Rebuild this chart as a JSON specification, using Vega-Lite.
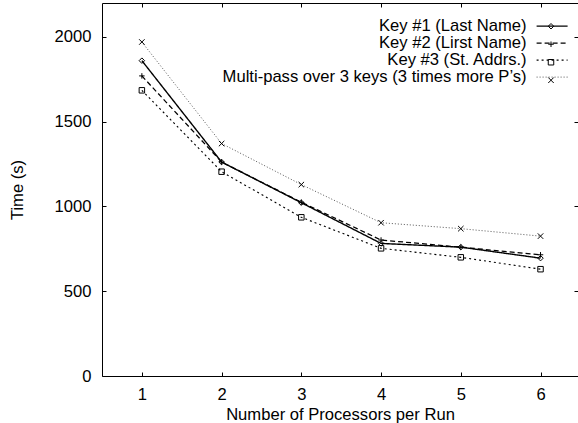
{
  "$schema": "https://vega.github.io/schema/vega-lite/v6.json",
  "width": 476,
  "height": 373,
  "autosize": {"type": "none"},
  "padding": {"left": 102, "top": 3, "right": 0, "bottom": 47},
  "background": "white",
  "config": {
    "view": {"stroke": null},
    "font": "Liberation Sans",
    "axis": {
      "labelFont": "Liberation Sans",
      "labelFontSize": 16.6,
      "labelColor": "black",
      "titleFont": "Liberation Sans",
      "titleFontSize": 16.6,
      "titleFontWeight": "normal",
      "titleColor": "black",
      "domainColor": "black",
      "tickColor": "black",
      "grid": false,
      "tickSize": -4,
      "domainWidth": 1,
      "tickWidth": 1
    }
  },
  "data": {
    "values": [
      {"series": "Key #1 (Last Name)", "processors": 1, "time": 1860},
      {"series": "Key #1 (Last Name)", "processors": 2, "time": 1262},
      {"series": "Key #1 (Last Name)", "processors": 3, "time": 1022},
      {"series": "Key #1 (Last Name)", "processors": 4, "time": 782},
      {"series": "Key #1 (Last Name)", "processors": 5, "time": 760},
      {"series": "Key #1 (Last Name)", "processors": 6, "time": 695},
      {"series": "Key #2 (Lirst Name)", "processors": 1, "time": 1770},
      {"series": "Key #2 (Lirst Name)", "processors": 2, "time": 1262},
      {"series": "Key #2 (Lirst Name)", "processors": 3, "time": 1025},
      {"series": "Key #2 (Lirst Name)", "processors": 4, "time": 802},
      {"series": "Key #2 (Lirst Name)", "processors": 5, "time": 760},
      {"series": "Key #2 (Lirst Name)", "processors": 6, "time": 715},
      {"series": "Key #3 (St. Addrs.)", "processors": 1, "time": 1685},
      {"series": "Key #3 (St. Addrs.)", "processors": 2, "time": 1205},
      {"series": "Key #3 (St. Addrs.)", "processors": 3, "time": 936},
      {"series": "Key #3 (St. Addrs.)", "processors": 4, "time": 753},
      {"series": "Key #3 (St. Addrs.)", "processors": 5, "time": 700},
      {"series": "Key #3 (St. Addrs.)", "processors": 6, "time": 630},
      {"series": "Multi-pass over 3 keys (3 times more P’s)", "processors": 1, "time": 1970},
      {"series": "Multi-pass over 3 keys (3 times more P’s)", "processors": 2, "time": 1371},
      {"series": "Multi-pass over 3 keys (3 times more P’s)", "processors": 3, "time": 1129},
      {"series": "Multi-pass over 3 keys (3 times more P’s)", "processors": 4, "time": 904},
      {"series": "Multi-pass over 3 keys (3 times more P’s)", "processors": 5, "time": 869},
      {"series": "Multi-pass over 3 keys (3 times more P’s)", "processors": 6, "time": 825}
    ]
  },
  "layer": [
    {
      "mark": {"type": "line"},
      "encoding": {
        "x": {
          "field": "processors", "type": "quantitative",
          "scale": {"domain": [0.5, 6.47], "nice": false, "zero": false},
          "axis": {"orient": "bottom", "values": [1, 2, 3, 4, 5, 6], "title": "Number of Processors per Run", "labelPadding": 14, "titlePadding": 3.5}
        },
        "y": {
          "field": "time", "type": "quantitative",
          "scale": {"domain": [0, 2200], "nice": false, "zero": true},
          "axis": {"orient": "left", "values": [0, 500, 1000, 1500, 2000], "format": "d", "title": "Time (s)", "labelPadding": 15, "titlePadding": 29}
        },
        "strokeDash": {
          "field": "series", "type": "nominal",
          "scale": {
            "domain": ["Key #1 (Last Name)", "Key #2 (Lirst Name)", "Key #3 (St. Addrs.)", "Multi-pass over 3 keys (3 times more P’s)"],
            "range": [[1, 0], [5, 3], [2, 3], [1, 2]]
          },
          "legend": {
            "orient": "none", "legendX": 441.8, "legendY": 14.8, "title": null,
            "symbolType": "M-3.1,0H3.1", "symbolSize": 100,
            "labelAlign": "right", "labelOffset": -33.8, "labelFont": "Liberation Sans", "labelFontSize": 16.6, "labelColor": "black", "labelLimit": 400,
            "rowPadding": 0, "padding": 0
          }
        },
        "color": {
          "field": "series", "type": "nominal",
          "scale": {
            "domain": ["Key #1 (Last Name)", "Key #2 (Lirst Name)", "Key #3 (St. Addrs.)", "Multi-pass over 3 keys (3 times more P’s)"],
            "range": ["#000000", "#000000", "#000000", "#555555"]
          },
          "legend": {
            "orient": "none", "legendX": 441.8, "legendY": 14.8, "title": null,
            "symbolType": "M-3.1,0H3.1", "symbolSize": 100,
            "labelAlign": "right", "labelOffset": -33.8, "labelFont": "Liberation Sans", "labelFontSize": 16.6, "labelColor": "black", "labelLimit": 400,
            "rowPadding": 0, "padding": 0
          }
        },
        "strokeWidth": {
          "field": "series", "type": "nominal",
          "scale": {
            "domain": ["Key #1 (Last Name)", "Key #2 (Lirst Name)", "Key #3 (St. Addrs.)", "Multi-pass over 3 keys (3 times more P’s)"],
            "range": [1.4, 1, 1, 1]
          },
          "legend": {
            "orient": "none", "legendX": 441.8, "legendY": 14.8, "title": null,
            "symbolType": "M-3.1,0H3.1", "symbolSize": 100,
            "labelAlign": "right", "labelOffset": -33.8, "labelFont": "Liberation Sans", "labelFontSize": 16.6, "labelColor": "black", "labelLimit": 400,
            "rowPadding": 0, "padding": 0
          }
        }
      }
    },
    {
      "mark": {"type": "point", "filled": false, "size": 30, "strokeWidth": 1, "opacity": 1, "color": "black"},
      "encoding": {
        "x": {"field": "processors", "type": "quantitative", "scale": {"domain": [0.5, 6.47], "nice": false, "zero": false}, "axis": null},
        "y": {"field": "time", "type": "quantitative", "scale": {"domain": [0, 2200], "nice": false, "zero": true}, "axis": null},
        "shape": {
          "field": "series", "type": "nominal",
          "scale": {
            "range": ["M0,-1L1,0L0,1L-1,0Z", "M-1,0H1M0,-1V1", "M-1,-1H1V1H-1Z", "M-1,-1L1,1M-1,1L1,-1"]
          },
          "legend": {
            "orient": "none", "legendX": 444, "legendY": 14.5, "title": null,
            "symbolSize": 30, "symbolStrokeWidth": 1, "symbolStrokeColor": "black", "symbolFillColor": "white",
            "labelExpr": "''", "labelOffset": 0, "clipHeight": 17.5, "rowPadding": 0, "padding": 0
          }
        }
      }
    },
    {
      "mark": {"type": "point", "opacity": 0},
      "encoding": {
        "x": {
          "field": "processors", "type": "quantitative",
          "scale": {"domain": [0.5, 6.47], "nice": false, "zero": false},
          "axis": {"orient": "top", "values": [1, 2, 3, 4, 5, 6], "labels": false, "title": null, "domain": true}
        },
        "y": {
          "field": "time", "type": "quantitative",
          "scale": {"domain": [0, 2200], "nice": false, "zero": true},
          "axis": {"orient": "right", "values": [0, 500, 1000, 1500, 2000], "labels": false, "title": null, "domain": false}
        }
      }
    }
  ],
  "resolve": {"axis": {"x": "independent", "y": "independent"}}
}
